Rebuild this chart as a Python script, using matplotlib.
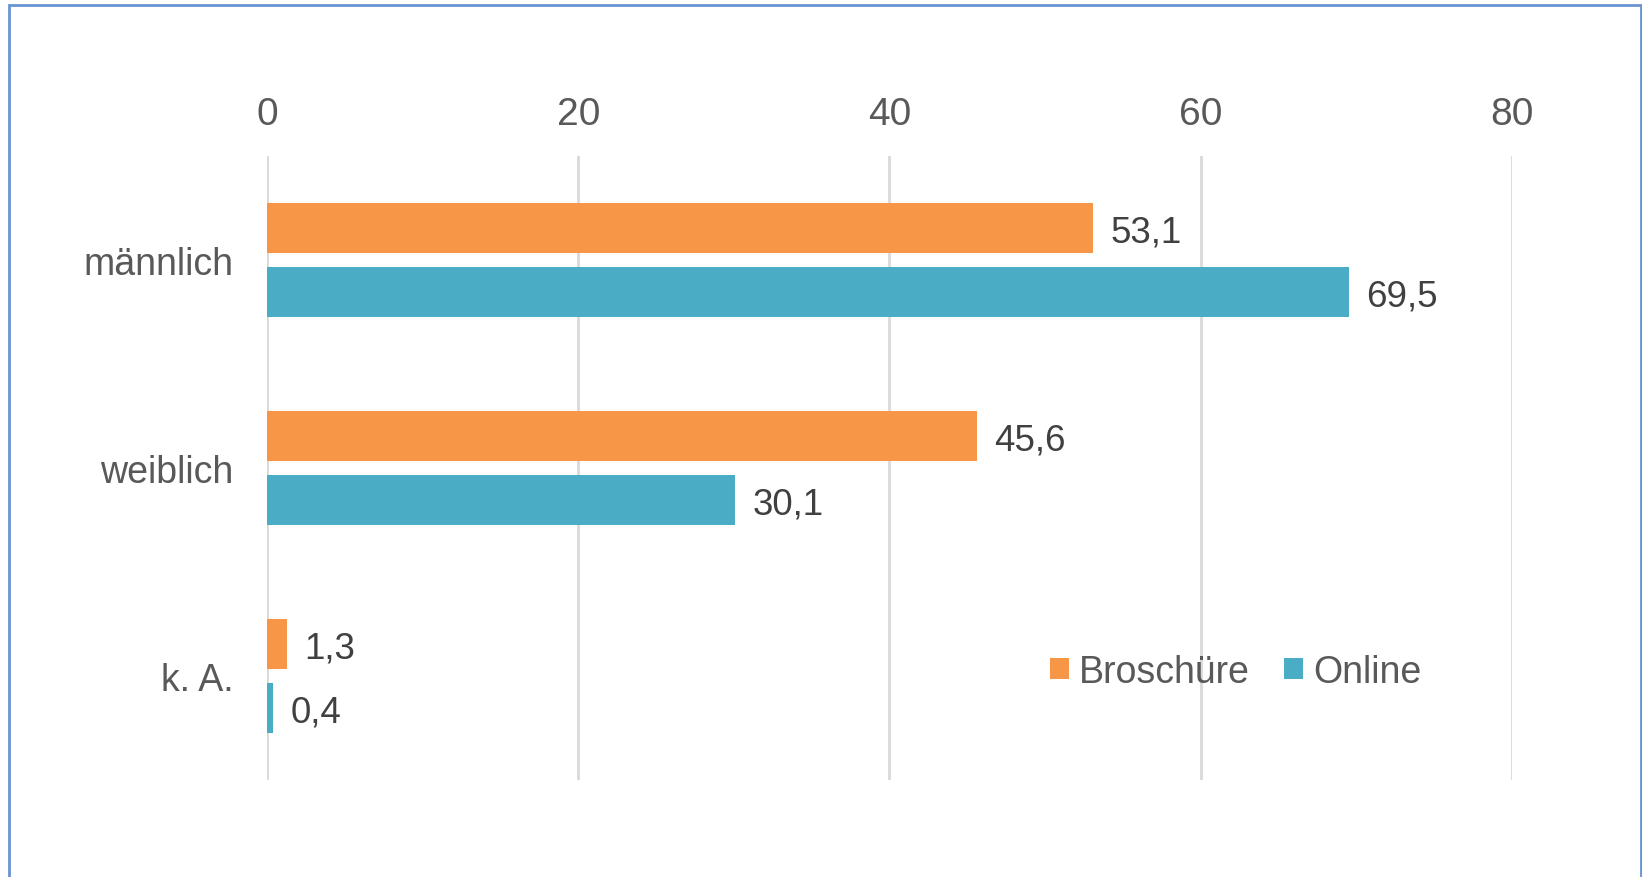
import numpy as np
import matplotlib.pyplot as plt
from matplotlib.patches import Rectangle

# Daten
kategorien = ["männlich", "weiblich", "k. A."]
broschuere = [53.1, 45.6, 1.3]
online = [69.5, 30.1, 0.4]
x_ticks = [0, 20, 40, 60, 80]

orange = "#F79646"
blau = "#4BACC6"
grau_text = "#595959"

plt.rcParams['font.family'] = ['Liberation Sans', 'DejaVu Sans']

fig = plt.figure(figsize=(16.42, 8.78), dpi=100)
ax = fig.add_axes([0.1626, 0.1105, 0.7582, 0.7107])

y = np.arange(len(kategorien))
h = 0.242
off = 0.155

b1 = ax.barh(y - off, broschuere, height=h, color=orange, label="Broschüre", zorder=3)
b2 = ax.barh(y + off, online, height=h, color=blau, label="Online", zorder=3)

# Datenbeschriftungen
for bars, werte in ((b1, broschuere), (b2, online)):
    for r, v in zip(bars, werte):
        ax.text(r.get_width() + 1.1, r.get_y() + r.get_height() / 2 + 0.02,
                f"{v:.1f}".replace(".", ","), va="center", ha="left",
                fontsize=26.5, color="#404040")

ax.set_xlim(0, 80)
ax.set_ylim(2.5, -0.5)
ax.set_xticks(x_ticks)
ax.set_yticks(y)
ax.set_yticklabels(kategorien)
ax.xaxis.tick_top()
ax.tick_params(axis="x", length=0, pad=17, labelsize=28, labelcolor=grau_text)
ax.tick_params(axis="y", length=0, pad=24, labelsize=27, labelcolor=grau_text)
ax.grid(axis="x", color="#D9D9D9", linewidth=2, zorder=0)
for s in ax.spines.values():
    s.set_visible(False)

leg = fig.legend(loc="center left", bbox_to_anchor=(0.6395, 0.234), ncol=2,
                 frameon=False, fontsize=27, handlelength=0.5, handleheight=0.5,
                 handletextpad=0.28, columnspacing=0.9, labelcolor=grau_text,
                 borderpad=0, borderaxespad=0)

# Rahmen
fig.patches.append(Rectangle((9 / 1642, -0.05), 1632 / 1642, 1 - 6 / 878 + 0.05,
                             transform=fig.transFigure, fill=False,
                             edgecolor="#6A93D4", linewidth=2))

fig.savefig("out.png", dpi=100)
